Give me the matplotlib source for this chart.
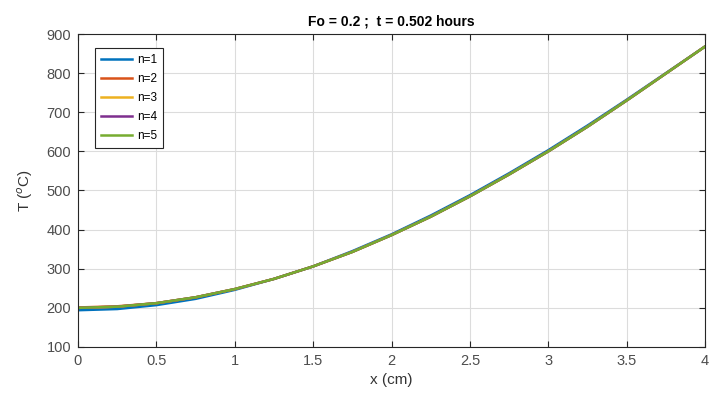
import matplotlib
matplotlib.use("Agg")
import matplotlib.pyplot as plt

plt.rcParams["font.family"] = ["Liberation Sans", "DejaVu Sans"]

# positions along the wall (cm)
x_cm = [0, 0.25, 0.5, 0.75, 1, 1.25, 1.5, 1.75, 2, 2.25, 2.5, 2.75, 3, 3.25, 3.5, 3.75, 4]

# temperature profiles (deg C) for number of series terms n
temp_n1 = [194, 197, 207, 223, 246, 274, 306, 345, 388, 436, 488, 544, 603, 666, 732, 800, 868]
temp_n2 = [201, 204, 212, 227, 248, 274, 306, 343, 386, 433, 485, 541, 600, 663, 730, 799, 868]
temp_n3 = [200, 203, 212, 227, 248, 274, 306, 343, 386, 433, 485, 541, 600, 663, 730, 799, 868]
temp_n4 = [200, 203, 212, 227, 248, 274, 306, 343, 386, 433, 485, 541, 600, 663, 730, 799, 868]
temp_n5 = [200, 203, 212, 227, 248, 274, 306, 343, 386, 433, 485, 541, 600, 663, 730, 799, 868]

labels = ["n=1", "n=2", "n=3", "n=4", "n=5"]
colors = ["#0072BD", "#D95319", "#EDB120", "#7E2F8E", "#77AC30"]

fig = plt.figure(figsize=(7.11, 4.01), dpi=100)
ax = fig.add_axes([0.1097, 0.1347, 0.8819, 0.7805])

for temps, label, color in zip([temp_n1, temp_n2, temp_n3, temp_n4, temp_n5], labels, colors):
    ax.plot(x_cm, temps, color=color, linewidth=1.8, label=label)

ax.set_xlim(0, 4)
ax.set_ylim(100, 900)
ax.set_xticks([0, 0.5, 1, 1.5, 2, 2.5, 3, 3.5, 4])
ax.set_xticklabels(["0", "0.5", "1", "1.5", "2", "2.5", "3", "3.5", "4"])
ax.set_yticks(range(100, 901, 100))

ax.tick_params(direction="in", top=True, right=True, length=4, width=0.8,
               labelsize=10.5, colors="#262626", labelcolor="#4d4d4d", pad=5)
for spine in ax.spines.values():
    spine.set_color("#262626")
    spine.set_linewidth(0.8)
ax.grid(True, color="#dcdcdc", linewidth=0.8)
ax.set_axisbelow(True)

ax.set_xlabel("x (cm)", fontsize=11, color="#333333", labelpad=4)
ax.set_ylabel("T ($^{o}$C)", fontsize=11, color="#333333", labelpad=8)
ax.set_title("Fo = 0.2 ;  t = 0.502 hours", fontsize=10, fontweight="bold", pad=6)

leg = ax.legend(loc="upper left", bbox_to_anchor=(0.027, 0.955), borderaxespad=0,
                fontsize=8.5, handlelength=2.6, handletextpad=0.5,
                labelspacing=0.6, borderpad=0.5,
                fancybox=False, framealpha=1, edgecolor="#262626")
leg.get_frame().set_linewidth(0.8)

fig.savefig("out.png", dpi=100)
